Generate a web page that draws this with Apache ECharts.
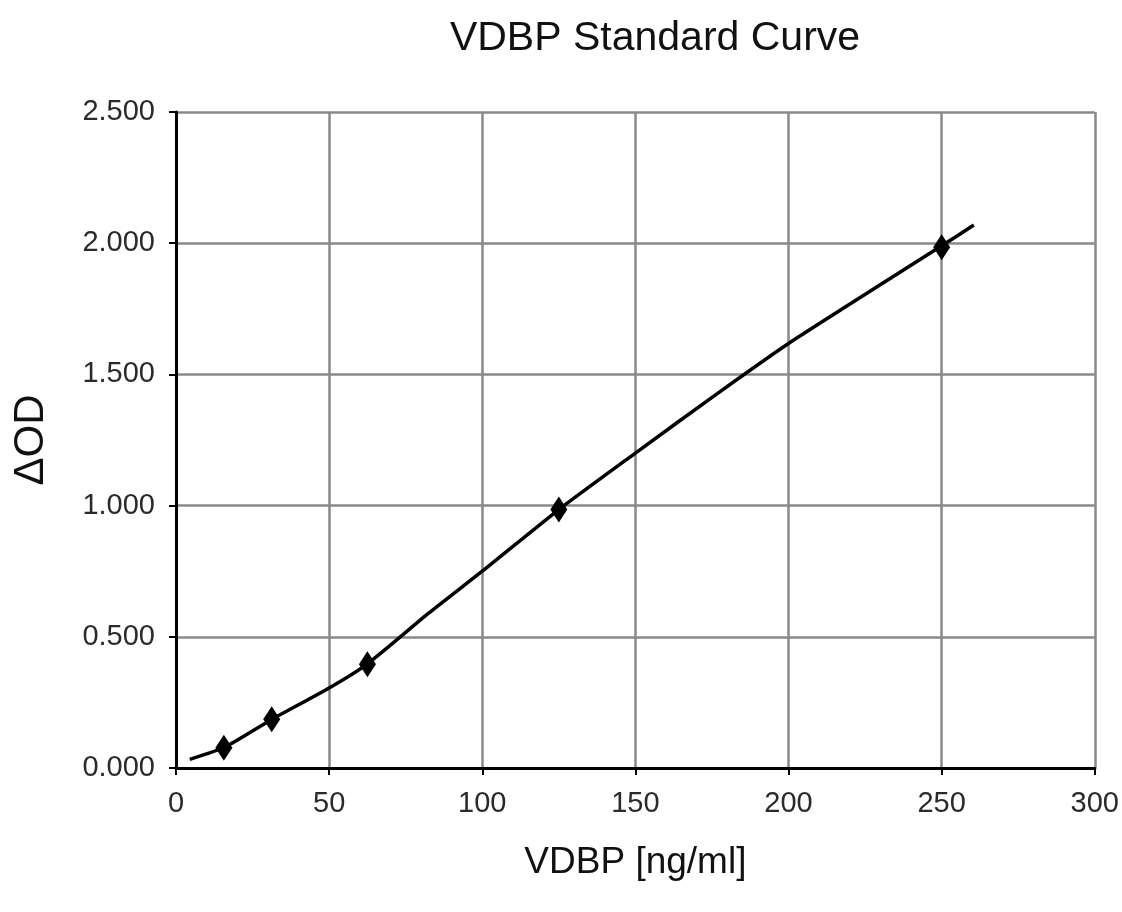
<!DOCTYPE html>
<html>
<head>
<meta charset="utf-8">
<script src="https://cdn.jsdelivr.net/npm/echarts@6/dist/echarts.min.js"></script>
<style>html,body{margin:0;padding:0;background:#fff;}#c{width:1122px;height:912px;}</style>
</head>
<body>
<div id="c"></div>
<script>
var standardConc = [15.625, 31.25, 62.5, 125, 250];
var standardOD = [0.077, 0.186, 0.395, 0.985, 1.985];
var curveConc = [4.5, 16, 31.25, 50, 62.5, 82.5, 100, 125, 150, 176.5, 200, 250, 260.5];
var curveOD = [0.033, 0.08, 0.185, 0.305, 0.397, 0.59, 0.75, 0.985, 1.2, 1.425, 1.618, 1.99, 2.069];
var xTicks = [0, 50, 100, 150, 200, 250, 300];
var yTicks = ['0.000', '0.500', '1.000', '1.500', '2.000', '2.500'];

var chart = echarts.init(document.getElementById('c'));
var font = 'Liberation Sans, Arial, sans-serif';
chart.setOption({
  animation: false,
  backgroundColor: '#fff',
  title: {
    text: 'VDBP Standard Curve',
    left: 650, top: 13, textAlign: 'center',
    textStyle: {fontFamily: font, fontSize: 41, fontWeight: 'normal', color: '#111'}
  },
  grid: {left: 176, right: 22, top: 112, bottom: 144},
  xAxis: {
    type: 'value', min: 0, max: 300, interval: 50,
    name: 'VDBP [ng/ml]', nameLocation: 'middle', nameGap: 76,
    nameTextStyle: {fontFamily: font, fontSize: 37, color: '#111'},
    axisLine: {show: true, lineStyle: {color: '#000', width: 3}},
    axisTick: {show: true, inside: false, length: 7, lineStyle: {color: '#000', width: 2}},
    axisLabel: {fontFamily: font, fontSize: 29, color: '#2a2a2a', margin: 21,
      formatter: function (v) { return xTicks.indexOf(v) >= 0 ? String(v) : ''; }},
    splitLine: {show: true, lineStyle: {color: '#8a8a8a', width: 2.5}}
  },
  yAxis: {
    type: 'value', min: 0, max: 2.5, interval: 0.5,
    name: 'ΔOD', nameLocation: 'middle', nameGap: 124, nameRotate: 90,
    nameTextStyle: {fontFamily: font, fontSize: 42, color: '#111'},
    axisLine: {show: true, lineStyle: {color: '#000', width: 3}},
    axisTick: {show: true, inside: false, length: 7, lineStyle: {color: '#000', width: 2}},
    axisLabel: {fontFamily: font, fontSize: 29, color: '#2a2a2a', margin: 21,
      formatter: function (v) { return yTicks[Math.round(v / 0.5)]; }},
    splitLine: {show: true, lineStyle: {color: '#8a8a8a', width: 2.5}}
  },
  series: [
    {
      type: 'line', name: 'fit',
      data: curveConc.map(function (x, i) { return [x, curveOD[i]]; }),
      smooth: 0.2, showSymbol: false, symbol: 'none',
      lineStyle: {color: '#000', width: 3.5}, z: 3
    },
    {
      type: 'scatter', name: 'standards',
      data: standardConc.map(function (x, i) { return [x, standardOD[i]]; }),
      symbol: 'diamond', symbolSize: [17, 26],
      itemStyle: {color: '#000', opacity: 1}, z: 4
    }
  ]
});
</script>
</body>
</html>
